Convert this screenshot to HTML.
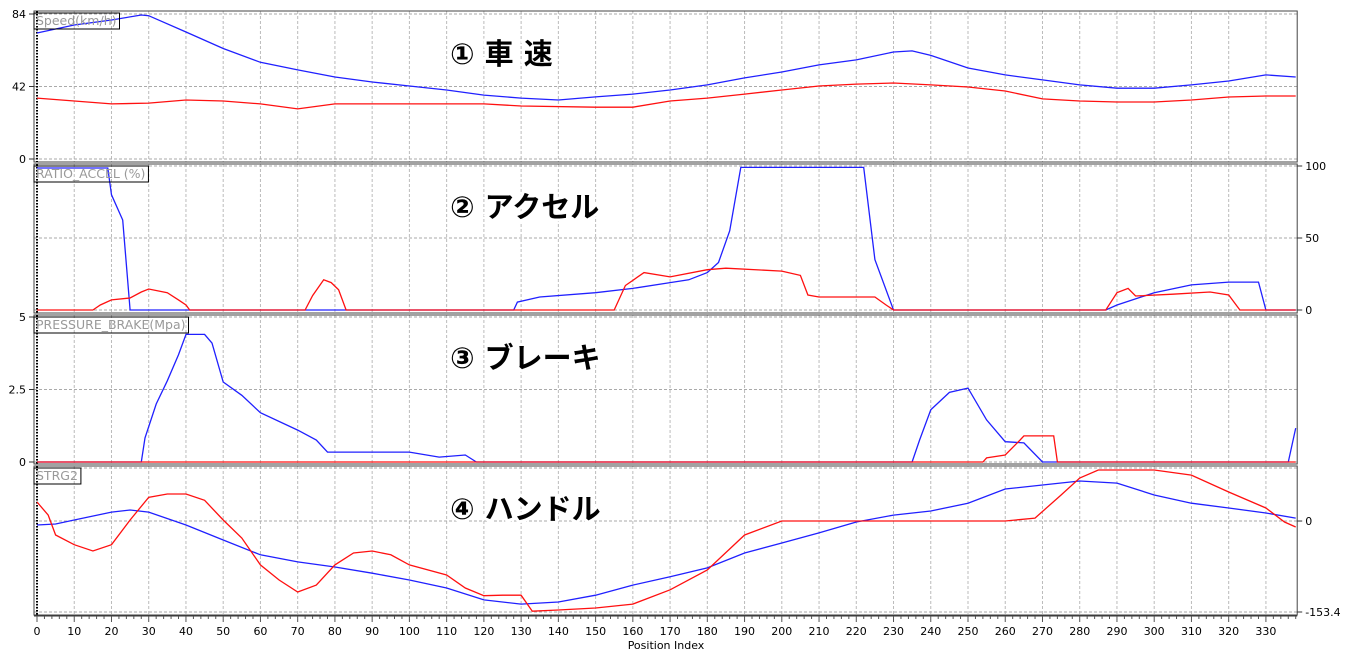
<!DOCTYPE html>
<html><head><meta charset="utf-8">
<style>
body{margin:0;background:#fff;width:1348px;height:656px;overflow:hidden;font-family:"Liberation Sans","Noto Sans CJK JP",sans-serif}
svg text{font-family:"DejaVu Sans","Liberation Sans","Noto Sans CJK JP",sans-serif}
</style></head><body>
<svg id="chart" width="1348" height="656" xmlns="http://www.w3.org/2000/svg"></svg>
<script>
const xTicks=[0,10,20,30,40,50,60,70,80,90,100,110,120,130,140,150,160,170,180,190,200,210,220,230,240,250,260,270,280,290,300,310,320,330];
const speedBlue=[[0,73],[10,77.6],[20,80.5],[28,83.4],[30,83],[40,73.6],[50,64],[60,56],[70,51.6],[80,47.5],[90,44.6],[100,42.3],[110,40],[120,37],[130,35.3],[140,34.2],[150,36],[160,37.6],[170,40],[180,42.9],[190,47],[200,50.4],[210,54.5],[220,57.4],[230,62],[235,62.6],[240,60],[250,52.7],[260,48.7],[270,45.8],[280,42.9],[290,41],[300,41],[310,42.9],[320,45.2],[330,48.7],[338,47.5]];
const speedRed=[[0,35.3],[20,31.9],[30,32.4],[40,34.2],[50,33.6],[60,31.9],[70,29],[80,31.9],[120,31.9],[130,30.7],[150,30],[160,30],[170,33.6],[180,35.3],[190,37.6],[200,40],[210,42.3],[220,43.4],[230,44],[240,42.9],[250,41.7],[260,39.4],[270,34.8],[280,33.6],[290,33],[300,33],[310,34.2],[320,35.9],[330,36.5],[338,36.5]];
const accelBlue=[[0,98.6],[19,98.6],[20,80],[23,62.5],[25,0],[128,0],[129,5.5],[135,9],[150,12],[160,15],[170,19],[175,21],[180,26],[183,33],[186,55],[189,99],[222,99],[225,35],[230,0],[287,0],[290,3.5],[300,12],[310,17.4],[320,19.4],[328,19.4],[330,0],[338,0]];
const accelRed=[[0,0],[15,0],[17,3.5],[20,7],[25,8.3],[28,12.5],[30,14.6],[35,12],[38,7],[40,3.5],[41,0],[72,0],[74,10],[77,21],[79,19],[81,14],[83,0],[155,0],[158,17],[163,26],[170,23],[180,28],[185,29],[200,27],[205,24],[207,10.4],[210,9],[225,9],[228,3.5],[230,0],[287,0],[290,12],[293,15],[295,9.7],[305,11],[315,12.5],[320,10.4],[323,0],[338,0]];
const brakeBlue=[[0,0],[28,0],[29,0.83],[32,2],[35,2.8],[38,3.7],[40,4.4],[45,4.4],[47,4.1],[50,2.76],[55,2.3],[60,1.7],[70,1.1],[75,0.76],[78,0.34],[100,0.34],[108,0.17],[115,0.24],[118,0],[235,0],[237,0.76],[240,1.8],[245,2.4],[250,2.55],[255,1.45],[260,0.7],[265,0.66],[270,0],[336,0],[338,1.17]];
const brakeRed=[[0,0],[254,0],[255,0.14],[260,0.24],[264,0.76],[265,0.9],[273,0.9],[274,0],[338,0]];
const strgBlue=[[0,-6.7],[5,-5],[10,1.7],[20,15],[25,18.5],[30,15],[40,-6.7],[50,-32],[60,-57],[70,-69],[80,-77.5],[90,-88],[100,-99.5],[110,-113],[120,-133],[130,-140],[140,-136.6],[150,-125],[160,-108],[170,-94],[180,-79],[190,-54],[200,-37],[210,-20],[220,-1.7],[230,10],[240,16.9],[250,30],[260,54],[270,60.7],[280,67.4],[290,64],[300,43.8],[310,30],[320,22],[330,13.5],[338,5]];
const strgRed=[[0,32],[3,10],[5,-23.6],[10,-40],[15,-50.6],[20,-40],[25,1.7],[30,40],[35,45.5],[40,45.5],[45,35],[50,1.7],[55,-28.7],[60,-74],[65,-99.5],[70,-119.7],[75,-108],[80,-74],[85,-54],[90,-50.6],[95,-57],[100,-74],[110,-91],[115,-113],[120,-126],[125,-125],[130,-125],[133,-152],[140,-150],[150,-146.7],[160,-140],[170,-116],[180,-82.6],[190,-23.6],[200,0],[260,0],[268,5],[275,43.8],[280,72.5],[285,86],[300,86],[310,77.5],[320,49],[330,22],[335,-1.7],[338,-10]];

const svg=document.getElementById('chart');
const NS='http://www.w3.org/2000/svg';
function mk(tag,attrs,parent){const e=document.createElementNS(NS,tag);for(const k in attrs)e.setAttribute(k,attrs[k]);(parent||svg).appendChild(e);return e;}
const X0=37,XPX=3.724,XMAX=338.4;
const xs=v=>X0+v*XPX;
const RIGHT=xs(XMAX);
const panels=[
 {name:'speed',top:14,bot:159,min:0,max:84,left:[['84',84],['42',42],['0',0]],right:[],label:'Speed(km/h)',title:'① 車 速',series:[speedBlue,speedRed],frameTop:11,frameBot:162},
 {name:'accel',top:166,bot:310,min:0,max:100,left:[],right:[['100',100],['50',50],['0',0]],label:'RATIO_ACCEL (%)',title:'② アクセル',series:[accelBlue,accelRed],frameTop:164,frameBot:313},
 {name:'brake',top:317,bot:462,min:0,max:5,left:[['5',5],['2.5',2.5],['0',0]],right:[],label:'PRESSURE_BRAKE(Mpa)',title:'③ ブレーキ',series:[brakeBlue,brakeRed],frameTop:315,frameBot:464},
 {name:'strg',top:468,bot:612,min:-153.4,max:89.4,left:[],right:[['0',0],['-153.4',-153.4]],label:'STRG2',title:'④ ハンドル',series:[strgBlue,strgRed],frameTop:466,frameBot:615,grid:[89.4,0,-153.4]}
];
const colors=['#2020ff','#ff1010'];
panels.forEach(p=>{
 const g=mk('g',{});
 
 
 const ys=v=>p.bot-(v-p.min)/(p.max-p.min)*(p.bot-p.top);
 xTicks.forEach(t=>{const l=mk('line',{x1:xs(t),x2:xs(t),y1:p.frameTop,y2:p.frameBot,stroke:'#bbb','stroke-dasharray':'3,2','stroke-width':1},g);});
 const hv=p.grid||(p.left.length?p.left.map(a=>a[1]):p.right.map(a=>a[1]));
 hv.forEach(v=>{const l=mk('line',{x1:34,x2:RIGHT,y1:ys(v),y2:ys(v),stroke:'#aaa','stroke-dasharray':'3,2'},g);});
 const f=mk('rect',{x:34,y:p.frameTop,width:RIGHT-34,height:p.frameBot-p.frameTop,fill:'none',stroke:'#444','stroke-width':1},g);
 
 const c=mk('line',{x1:37,x2:37,y1:p.frameTop,y2:p.frameBot,stroke:'#000','stroke-width':2,'stroke-dasharray':'1.5,1.5'},g);
 
 p.left.forEach(([t,v])=>{mk('line',{x1:29,x2:34,y1:ys(v),y2:ys(v),stroke:'#333'},g);const tx=mk('text',{x:26,y:ys(v)+4,'font-size':11,'text-anchor':'end',fill:'#000'},g);tx.textContent=t;});
 p.right.forEach(([t,v])=>{mk('line',{x1:RIGHT,x2:RIGHT+5,y1:ys(v),y2:ys(v),stroke:'#333'},g);const tx=mk('text',{x:RIGHT+8,y:ys(v)+4,'font-size':11,fill:'#000'},g);tx.textContent=t;});
 p.series.forEach((s,i)=>{const d=s.map((pt,j)=>(j?'L':'M')+xs(pt[0]).toFixed(1)+' '+ys(pt[1]).toFixed(1)).join(' ');const path=mk('path',{d:d,fill:'none',stroke:colors[i],'stroke-width':1.3},g);});
 const lt=mk('text',{x:36,y:p.frameTop+14,'font-size':12.5,fill:'#999'},g);lt.textContent=p.label;
 lt.setAttribute('font-family','"Liberation Sans",sans-serif');
 
 const w=lt.getComputedTextLength()+5;
 const r=mk('rect',{x:34,y:p.frameTop+2,width:w,height:16,fill:'none',stroke:'#000','stroke-width':1},g);
 
 const tt=mk('text',{x:450,y:p.frameTop+53,'font-size':29,'font-weight':'600',fill:'#000',stroke:'#fff','stroke-width':6,'paint-order':'stroke'},g);
 tt.setAttribute('font-family','"Noto Sans CJK JP",sans-serif');
 tt.textContent=p.title;
});
const ax=mk('g',{});
mk('line',{x1:34,x2:RIGHT,y1:616,y2:616,stroke:'#333'},ax);
for(let v=0;v<=338;v+=2){const l=mk('line',{x1:xs(v),x2:xs(v),y1:616,y2:v%10==0?622:619,stroke:'#555'},ax);}
xTicks.forEach(t=>{const tx=mk('text',{x:xs(t),y:635,'font-size':11,'text-anchor':'middle',fill:'#000'},ax);tx.textContent=t;});
const xt=mk('text',{x:666,y:649,'font-size':11,'text-anchor':'middle',fill:'#000'},ax);xt.textContent='Position Index';

</script>
</body></html>
